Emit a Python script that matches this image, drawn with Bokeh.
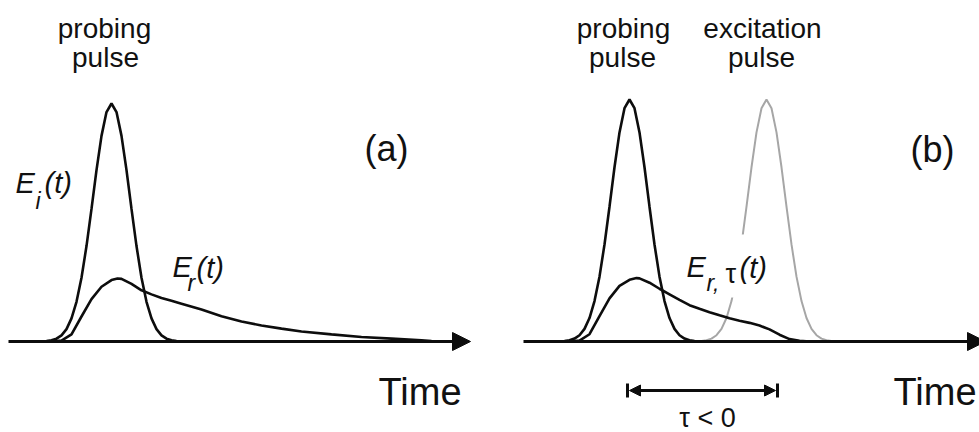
from bokeh.plotting import figure
from bokeh.layouts import row
from bokeh.models import Range1d, Arrow, NormalHead, BoxAnnotation
from bokeh.embed import file_html
from bokeh.resources import INLINE
from bokeh.core.properties import value

# ---------------- data (time in arbitrary units, amplitude normalised) ----------------
probe_t = [-7, -6.5, -6, -5.5, -5, -4.5, -4, -3.5, -3, -2.5, -2, -1.5, -1, -0.5, 0,
           0.5, 1, 1.5, 2, 2.5, 3, 3.5, 4, 4.5, 5, 5.5, 6, 6.5, 7]
probe_a = [0.001, 0.002, 0.005, 0.012, 0.026, 0.052, 0.097, 0.167, 0.268, 0.401, 0.557, 0.72, 0.864, 0.964, 1.0,
           0.964, 0.864, 0.72, 0.557, 0.401, 0.268, 0.167, 0.097, 0.052, 0.026, 0.012, 0.005, 0.002, 0.001]

refl_a_t = [-6, -5, -4, -3, -2, -1, 0, 0.6, 1, 2, 3, 4, 5, 6, 7, 9, 11, 13, 15, 17, 19,
            22, 25, 28, 31, 32]
refl_a_a = [0, 0.004, 0.03, 0.105, 0.178, 0.23, 0.258, 0.265, 0.263, 0.242, 0.215, 0.198, 0.183,
            0.171, 0.159, 0.134, 0.106, 0.084, 0.067, 0.054, 0.042, 0.030, 0.019, 0.012, 0.005, 0.002]

refl_b_t = [-6, -5, -4, -3, -2, -1, 0, 0.7, 1, 2, 3, 4, 5, 6, 7, 8, 9, 10, 11, 12, 13,
            14, 15, 16, 17, 18]
refl_b_a = [0, 0.004, 0.03, 0.105, 0.178, 0.23, 0.255, 0.262, 0.261, 0.243, 0.218, 0.195, 0.172,
            0.150, 0.135, 0.121, 0.108, 0.096, 0.086, 0.077, 0.066, 0.050, 0.028, 0.010, 0.003, 0]

exc_t = [6.7, 7.2, 7.7, 8.2, 8.7, 9.2, 9.7, 10.2, 10.7, 11.2, 11.7, 12.2, 12.7, 13.2, 13.7,
         14.2, 14.7, 15.2, 15.7, 16.2, 16.7, 17.2, 17.7, 18.2, 18.7, 19.2, 19.7, 20.2, 20.7]
exc_a = [0.001, 0.002, 0.005, 0.012, 0.026, 0.052, 0.097, 0.167, 0.268, 0.401, 0.557, 0.72, 0.864, 0.964, 1.0,
         0.964, 0.864, 0.72, 0.557, 0.401, 0.268, 0.167, 0.097, 0.052, 0.026, 0.012, 0.005, 0.002, 0.001]

panel_labels = ["(a)", "(b)"]
axis_title = "Time"
pulse_labels = [["probing", "pulse"], ["excitation", "pulse"]]
delay_label = "\u03c4 < 0"

FONT = value("Liberation Sans")
INK = "#0d0d0d"
TXT = "#111111"
GRAY = "#a6a6a6"
H = 432


def make_panel(width, left_px, t0_px, base_py, peak_py):
    X = lambda px: (px - t0_px) / 10.0
    Y = lambda py: (base_py - py) / float(base_py - peak_py)
    p = figure(width=width, height=H, output_backend="svg", toolbar_location=None,
               x_range=Range1d(X(left_px), X(left_px + width)),
               y_range=Range1d(Y(H), Y(0)),
               x_axis_location=None, y_axis_location=None, min_border=0)
    p.grid.visible = False
    p.outline_line_color = None
    p.background_fill_color = "white"
    p.border_fill_color = "white"
    return p, X, Y


def txt(p, Y, x, base_py, s, size, style="normal", align="left", color=TXT, level=None):
    # base_py: wanted baseline in pixels; the renderer sits text ~0.3em lower
    y = Y(base_py - 0.3 * size)
    r = p.text(x=[x], y=[y], text=[s], text_font=FONT, text_font_size=f"{size}px",
               text_font_style=style, text_align=align, text_baseline="alphabetic",
               text_color=color)
    if level:
        r.level = level
    return r


def time_axis(p, X, x0, x1):
    head = NormalHead(size=18, fill_color=INK, line_color=INK, line_width=1)
    p.add_layout(Arrow(end=head, x_start=X(x0), y_start=0, x_end=X(x1), y_end=0,
                       line_width=3, line_color=INK))


# ---------------- panel (a) ----------------
pa, Xa, Ya = make_panel(490, 0, 111, 341, 103)
pa.line(probe_t, probe_a, line_width=2.6, line_color=INK)
pa.line(refl_a_t, refl_a_a, line_width=2.6, line_color=INK)
time_axis(pa, Xa, 8, 470)

txt(pa, Ya, Xa(104), 36, pulse_labels[0][0] if False else "probing", 28, align="center")
txt(pa, Ya, Xa(105), 65, "pulse", 28, align="center")
txt(pa, Ya, Xa(386), 159, panel_labels[0], 36, align="center")
txt(pa, Ya, Xa(378), 403, axis_title, 38)
txt(pa, Ya, Xa(15), 191, "E", 29, style="italic")
txt(pa, Ya, Xa(35), 207, "i", 23, style="italic")
txt(pa, Ya, Xa(44), 191, "(t)", 29, style="italic")
txt(pa, Ya, Xa(172), 275, "E", 29, style="italic")
txt(pa, Ya, Xa(187), 289, "r", 23, style="italic")
txt(pa, Ya, Xa(196), 276, "(t)", 29, style="italic")

# ---------------- panel (b) ----------------
pb, Xb, Yb = make_panel(489, 490, 629, 341, 99)
pb.line(exc_t, exc_a, line_width=2.0, line_color=GRAY)
pb.line(probe_t, probe_a, line_width=2.6, line_color=INK)
pb.line(refl_b_t, refl_b_a, line_width=2.6, line_color=INK)
time_axis(pb, Xb, 523, 985)

# white mask behind the E_r,tau label (gap in the excitation pulse)
pb.add_layout(BoxAnnotation(left=Xb(722), right=Xb(754), top=Yb(234), bottom=Yb(297),
                            fill_color="white", fill_alpha=1.0, line_color=None))

txt(pb, Yb, Xb(623), 36, "probing", 28, align="center")
txt(pb, Yb, Xb(622), 65, pulse_labels[0][1], 28, align="center")
txt(pb, Yb, Xb(762), 36, pulse_labels[1][0], 28, align="center")
txt(pb, Yb, Xb(761), 65, pulse_labels[1][1], 28, align="center")
txt(pb, Yb, Xb(932), 160, panel_labels[1], 36, align="center")
txt(pb, Yb, Xb(893), 403, axis_title, 38)
txt(pb, Yb, Xb(686), 275, "E", 29, style="italic", level="overlay")
txt(pb, Yb, Xb(706), 289, "r,", 23, style="italic", level="overlay")
txt(pb, Yb, Xb(725), 282, "\u03c4", 27, level="overlay")
txt(pb, Yb, Xb(739), 276, "(t)", 29, style="italic", level="overlay")

# delay bar
y_bar = Yb(390)
bar_heads = dict(size=11, fill_color=INK, line_color=INK, line_width=1)
pb.add_layout(Arrow(start=NormalHead(**bar_heads), end=NormalHead(**bar_heads),
                    x_start=Xb(629), y_start=y_bar, x_end=Xb(775), y_end=y_bar,
                    line_width=3, line_color=INK))
pb.segment(x0=[Xb(627), Xb(777)], y0=[Yb(383), Yb(383)],
           x1=[Xb(627), Xb(777)], y1=[Yb(397), Yb(397)], line_width=3, line_color=INK)
txt(pb, Yb, Xb(707), 426, delay_label, 27, align="center")

layout = row(pa, pb)
open("out.html", "w").write(file_html(layout, INLINE))
